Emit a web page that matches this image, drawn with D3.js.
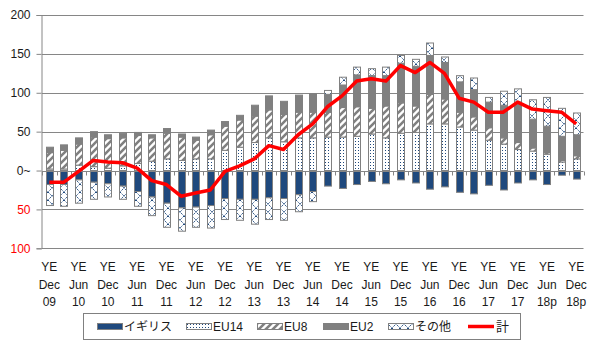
<!DOCTYPE html>
<html><head><meta charset="utf-8">
<script src="https://cdn.jsdelivr.net/npm/d3@7"></script>
<style>
html,body{margin:0;padding:0;background:#fff;}
svg{display:block;font-family:"Liberation Sans","Noto Sans CJK JP",Arial,sans-serif;}
</style></head>
<body>
<svg id="c" width="599" height="346"></svg>
<script>
const categories = ["YE Dec 09","YE Mar 10","YE Jun 10","YE Sep 10","YE Dec 10","YE Mar 11","YE Jun 11","YE Sep 11","YE Dec 11","YE Mar 12","YE Jun 12","YE Sep 12","YE Dec 12","YE Mar 13","YE Jun 13","YE Sep 13","YE Dec 13","YE Mar 14","YE Jun 14","YE Sep 14","YE Dec 14","YE Mar 15","YE Jun 15","YE Sep 15","YE Dec 15","YE Mar 16","YE Jun 16","YE Sep 16","YE Dec 16","YE Mar 17","YE Jun 17","YE Sep 17","YE Dec 17","YE Mar 18p","YE Jun 18p","YE Sep 18p","YE Dec 18p"];
const uk    = [-18,-18,-12,-15,-17,-20,-27,-34,-42,-48,-47,-45,-36,-37,-37,-35,-36,-31,-27,-20,-23,-18,-14,-17,-12,-16,-24,-21,-28,-30,-19,-25,-16,-12,-18,-6,-11];
const eu14  = [2,2,7,5,3,6,9,12,15,13,15,15,26,30,36,42,37,42,42,43,43,44,47,42,48,49,60,60,56,52,39,34,27,25,21,11,15];
const eu8   = [21,24,27,38,38,36,36,30,33,30,24,31,31,35,34,36,35,33,33,32,38,38,33,41,39,34,38,32,19,17,16,8,9,4,2,2,4];
const eu2   = [7,7,8,7,5,6,4,4,6,4,4,6,6,6,14,18,17,22,24,23,29,41,42,39,51,51,50,47,39,35,33,42,52,37,34,31,27];
const other = [-27,-28,-30,-22,-17,-17,-19,-24,-31,-30,-26,-29,-27,-27,-32,-28,-28,-22,-13,5,10,10,9,11,10,9,16,7,8,15,6,18,17,25,37,36,28];
const total = [-15,-15,-1,13,11,10,3,-13,-18,-33,-29,-25,-1,6,15,32,27,46,60,82,96,115,118,115,135,126,139,125,93,88,75,75,88,79,77,75,60];
const yTicks = [200,150,100,50,0,-50,-100];
const yTickLabels = ["200","150","100","50","0~","50","100"];
const seriesNames = ["イギリス","EU14","EU8","EU2","その他"];
const lineName = "計";

const svg = d3.select("#c");
const defs = svg.append("defs");
const BLUE = "#1F497D", GREY = "#808080", AXIS = "#868686";

// patterns
const pDot = defs.append("pattern").attr("id","pEU14").attr("patternUnits","userSpaceOnUse").attr("width",3).attr("height",3);
pDot.append("rect").attr("width",3).attr("height",3).attr("fill","#fff");
pDot.append("rect").attr("x",1).attr("y",0).attr("width",1).attr("height",1).attr("fill",BLUE);

const pDiag = defs.append("pattern").attr("id","pEU8").attr("patternUnits","userSpaceOnUse").attr("width",7).attr("height",7);
pDiag.append("rect").attr("width",7).attr("height",7).attr("fill","#fff");
pDiag.append("path").attr("d","M-2,9 L9,-2 M-2,2 L2,-2 M5,9 L9,5").attr("stroke",GREY).attr("stroke-width",2.6);

const pX = defs.append("pattern").attr("id","pOther").attr("patternUnits","userSpaceOnUse").attr("width",8).attr("height",8);
pX.append("rect").attr("width",8).attr("height",8).attr("fill","#fff");
pX.append("path").attr("d","M0,0 L8,8 M8,0 L0,8").attr("stroke",BLUE).attr("stroke-width",1).attr("stroke-dasharray","1.4,0.9");

const fills = [BLUE,"url(#pEU14)","url(#pEU8)",GREY,"url(#pOther)"];

const xb = d3.scaleBand().domain(categories).range([42,583.5]);
const y = d3.scaleLinear().domain([-100,200]).range([248.3,15]);

// gridlines
svg.append("g").selectAll("line").data(yTicks.filter(v=>v!==0)).join("line")
  .attr("x1",42).attr("x2",583.5).attr("y1",d=>Math.round(y(d))+0.5).attr("y2",d=>Math.round(y(d))+0.5)
  .attr("stroke",AXIS).attr("stroke-width",1);

// stacked data
const rows = categories.map((c,i)=>({cat:c,uk:uk[i],eu14:eu14[i],eu8:eu8[i],eu2:eu2[i],other:other[i]}));
const keys = ["uk","eu14","eu8","eu2","other"];
const stack = d3.stack().keys(keys).offset(d3.stackOffsetDiverging)(rows);

const bw = 7;
svg.append("g").selectAll("g").data(stack).join("g")
  .attr("fill",(d,i)=>fills[i])
  .selectAll("rect").data(d=>d).join("rect")
  .attr("x",d=>Math.round(xb(d.data.cat)+xb.bandwidth()/2-bw/2)+0.5)
  .attr("width",bw)
  .attr("y",d=>y(Math.max(d[0],d[1])))
  .attr("height",d=>Math.abs(y(d[0])-y(d[1])))
  .attr("stroke",GREY).attr("stroke-width",1);

// x axis line (zero) and ticks
const y0 = Math.round(y(0))+0.5;
svg.append("line").attr("x1",42).attr("x2",583.5).attr("y1",y0).attr("y2",y0).attr("stroke",AXIS);
const bounds = categories.map(c=>xb(c)).concat([583.5]);
svg.append("g").selectAll("line").data(bounds).join("line")
  .attr("x1",d=>Math.round(d)+0.5).attr("x2",d=>Math.round(d)+0.5)
  .attr("y1",y0).attr("y2",y0+4).attr("stroke",AXIS);

// y axis
const yAxis = d3.axisLeft(y).tickValues(yTicks).tickSize(5).tickFormat((d,i)=>yTickLabels[i]);
const ga = svg.append("g").attr("transform","translate(41.5,0)").call(yAxis);
ga.select(".domain").attr("stroke",AXIS);
ga.selectAll(".tick line").attr("stroke",AXIS);
ga.selectAll(".tick text").attr("x",-11).attr("font-size",12)
  .attr("font-family","Liberation Sans, Arial, sans-serif")
  .attr("fill",d=>d<0?"#FF0000":"#1a1a1a");

// total line
const line = d3.line().x((d,i)=>xb(categories[i])+xb.bandwidth()/2).y(d=>y(d));
svg.append("path").datum(total).attr("d",line).attr("fill","none")
  .attr("stroke","#FF0000").attr("stroke-width",3.5).attr("stroke-linejoin","round");

// x labels (every other category)
const lab = svg.append("g").attr("font-size",12).attr("fill","#1a1a1a").attr("text-anchor","middle");
categories.forEach((c,i)=>{
  if(i%2!==0) return;
  const parts = c.split(" ");
  const cx = xb(c)+xb.bandwidth()/2;
  parts.forEach((p,j)=>{
    lab.append("text").attr("x",cx).attr("y",271+j*17.5).text(p);
  });
});

// legend
const lg = svg.append("g");
lg.append("rect").attr("x",83.5).attr("y",313.5).attr("width",437).attr("height",26).attr("fill","#fff").attr("stroke",GREY);
const legX = [97,186,257,323,388];
seriesNames.forEach((n,i)=>{
  lg.append("rect").attr("x",legX[i]+0.5).attr("y",323.5).attr("width",25).attr("height",6)
    .attr("fill",fills[i]).attr("stroke",GREY);
  lg.append("text").attr("x",legX[i]+27).attr("y",331).attr("font-size",12).attr("fill","#1a1a1a")
    .attr("font-family","Liberation Sans, Noto Sans CJK JP, sans-serif").text(n);
});
lg.append("line").attr("x1",468).attr("x2",494).attr("y1",326.5).attr("y2",326.5).attr("stroke","#FF0000").attr("stroke-width",3.5);
lg.append("text").attr("x",496).attr("y",331).attr("font-size",13).attr("fill","#1a1a1a")
  .attr("font-family","Noto Sans CJK JP, sans-serif").text(lineName);
</script>
</body></html>
